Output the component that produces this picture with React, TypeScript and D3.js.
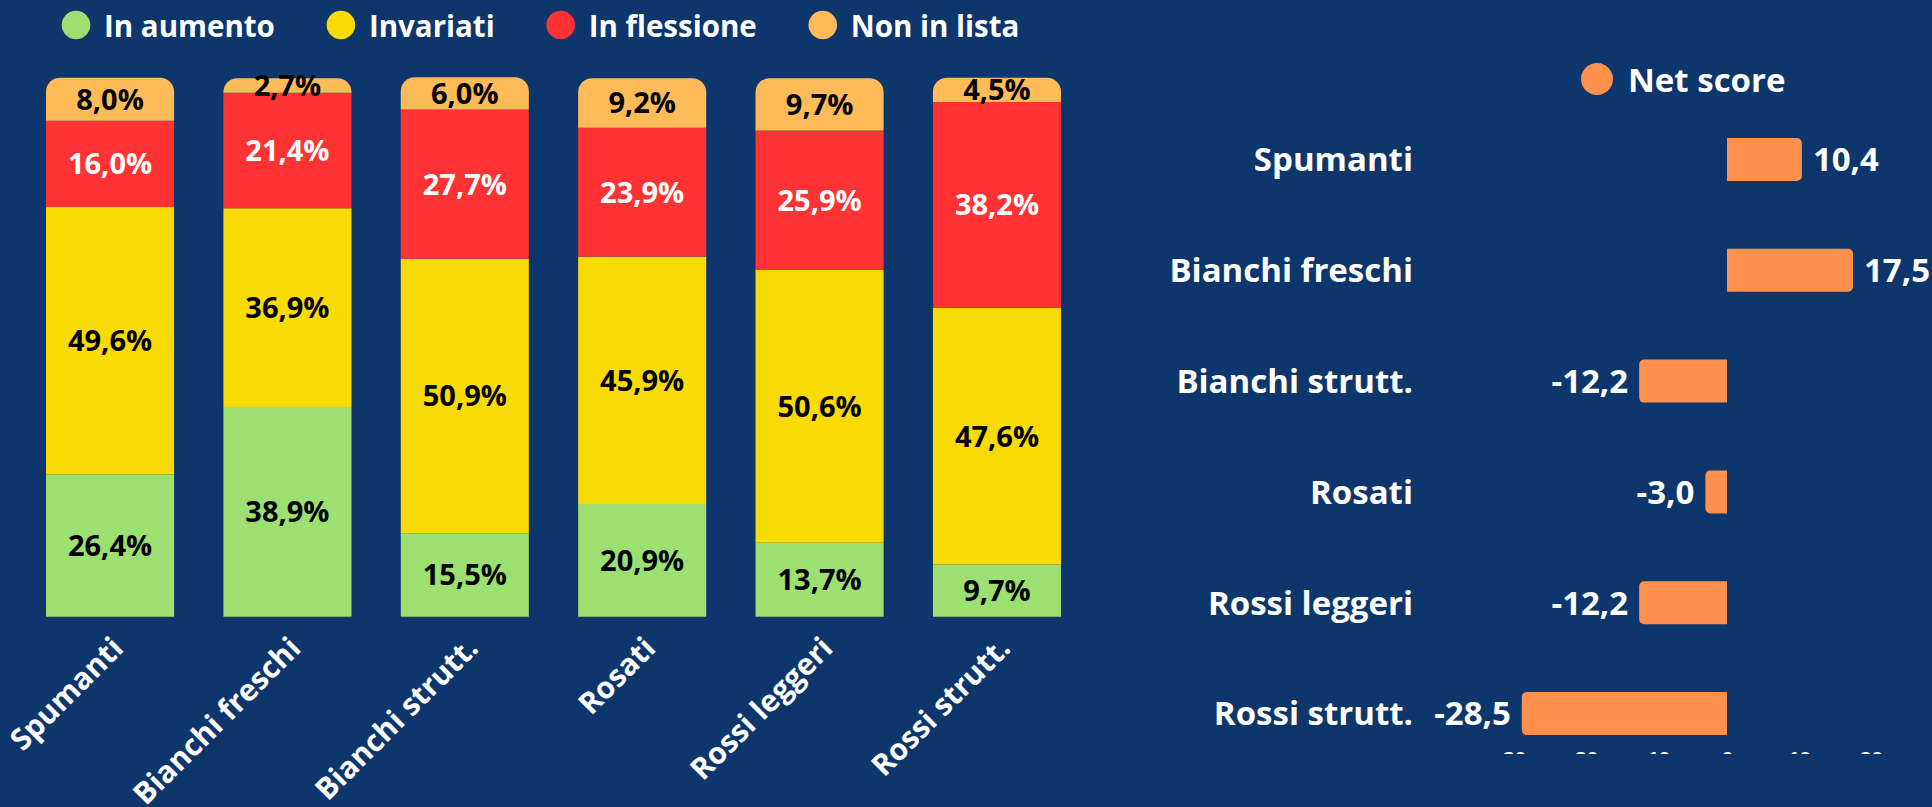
import { useEffect, useRef } from "react";
import * as d3 from "d3";

// Categorie e serie
const categories = [
  "Spumanti",
  "Bianchi freschi",
  "Bianchi strutt.",
  "Rosati",
  "Rossi leggeri",
  "Rossi strutt.",
];
const seriesNames = ["In aumento", "Invariati", "In flessione", "Non in lista"];
const inAumento = [26.4, 38.9, 15.5, 20.9, 13.7, 9.7];
const invariati = [49.6, 36.9, 50.9, 45.9, 50.6, 47.6];
const inFlessione = [16.0, 21.4, 27.7, 23.9, 25.9, 38.2];
const nonInLista = [8.0, 2.7, 6.0, 9.2, 9.7, 4.5];
const netScore = [10.4, 17.5, -12.2, -3.0, -12.2, -28.5];
const netTicks = [-30, -20, -10, 0, 10, 20];

const seriesColors = ["#9be070", "#f8da05", "#ff3333", "#febb58"];
const labelColors = ["#000000", "#000000", "#ffffff", "#000000"];
const netColor = "#ff914d";
const bg = "#0d366c";
const FONT = "'Open Sans', sans-serif";

const W = 1932;
const H = 807;

// formato italiano con trattino semplice
const fmt = (v: number) => d3.format(".1f")(v).replace(".", ",").replace("\u2212", "-");

function roundedTop(x: number, y: number, w: number, h: number, r: number) {
  const rr = Math.min(r, h, w / 2);
  return `M${x},${y + h}V${y + rr}A${rr},${rr} 0 0 1 ${x + rr},${y}H${x + w - rr}A${rr},${rr} 0 0 1 ${x + w},${y + rr}V${y + h}Z`;
}

function hBar(x0: number, x1: number, y: number, h: number, r: number) {
  const len = Math.abs(x1 - x0);
  const rr = Math.min(r, len, h / 2);
  if (x1 >= x0) {
    return `M${x0},${y}H${x1 - rr}A${rr},${rr} 0 0 1 ${x1},${y + rr}V${y + h - rr}A${rr},${rr} 0 0 1 ${x1 - rr},${y + h}H${x0}Z`;
  }
  return `M${x0},${y}H${x1 + rr}A${rr},${rr} 0 0 0 ${x1},${y + rr}V${y + h - rr}A${rr},${rr} 0 0 0 ${x1 + rr},${y + h}H${x0}Z`;
}

const App = () => {
  const svgRef = useRef<SVGSVGElement>(null);

  useEffect(() => {
    document.body.style.margin = "0";
    document.body.style.background = bg;
    document.body.style.overflow = "hidden";
    if (!svgRef.current) return;
    const svg = d3.select(svgRef.current);
    svg.selectAll("*").remove();

    svg.append("rect").attr("width", W).attr("height", H).attr("fill", bg);

    // ---- grafico a barre impilate ----
    const rows = categories.map((c, i) => ({
      cat: c,
      "In aumento": inAumento[i],
      Invariati: invariati[i],
      "In flessione": inFlessione[i],
      "Non in lista": nonInLista[i],
    }));
    const stacked = d3.stack<any>().keys(seriesNames)(rows);

    const x = d3.scaleBand().domain(categories).range([46, 1061]).paddingInner(0.278).paddingOuter(0);
    const y = d3.scaleLinear().domain([0, 100]).range([616.7, 77.7]);

    const left = svg.append("g");
    stacked.forEach((layer, si) => {
      const isTop = si === stacked.length - 1;
      const g = left.append("g");
      g.selectAll("path")
        .data(layer)
        .enter()
        .append("path")
        .attr("d", (d: any) => {
          const x0 = x(d.data.cat)!;
          const y0 = y(d[1]);
          const h = y(d[0]) - y(d[1]);
          return isTop
            ? roundedTop(x0, y0, x.bandwidth(), h, 14)
            : `M${x0},${y0}h${x.bandwidth()}v${h}h${-x.bandwidth()}Z`;
        })
        .attr("fill", seriesColors[si]);
      g.selectAll("text")
        .data(layer)
        .enter()
        .append("text")
        .attr("x", (d: any) => x(d.data.cat)! + x.bandwidth() / 2)
        .attr("y", (d: any) => (y(d[0]) + y(d[1])) / 2)
        .attr("dy", "0.36em")
        .attr("text-anchor", "middle")
        .attr("font-family", FONT)
        .attr("font-weight", 700)
        .attr("font-size", 29)
        .attr("fill", labelColors[si])
        .text((d: any) => fmt(d[1] - d[0]) + "%");
    });

    // etichette categorie ruotate
    left
      .selectAll(".cat")
      .data(categories)
      .enter()
      .append("text")
      .attr("class", "cat")
      .attr("transform", (d) => `translate(${x(d)! + x.bandwidth() / 2 + 15},650) rotate(-45)`)
      .attr("text-anchor", "end")
      .attr("font-family", FONT)
      .attr("font-weight", 700)
      .attr("font-size", 30)
      .attr("fill", "#ffffff")
      .text((d) => d);

    // legenda
    const legend = svg.append("g");
    let cx = 76;
    seriesNames.forEach((name, i) => {
      legend.append("circle").attr("cx", cx).attr("cy", 25).attr("r", 14.3).attr("fill", seriesColors[i]);
      const t = legend
        .append("text")
        .attr("x", cx + 28)
        .attr("y", 37)
        .attr("font-family", FONT)
        .attr("font-weight", 700)
        .attr("font-size", 29.5)
        .attr("fill", "#ffffff")
        .text(name);
      const len = (t.node() as SVGTextElement).getComputedTextLength();
      cx = cx + 28 + len + 66;
    });

    // ---- net score ----
    const xs = d3.scaleLinear().domain([-30, 20]).range([1511, 1871]);
    const ys = d3.scaleBand().domain(categories).range([138, 735]).paddingInner(0.612).paddingOuter(0);

    const right = svg.append("g");
    right
      .selectAll(".nb")
      .data(categories)
      .enter()
      .append("path")
      .attr("class", "nb")
      .attr("d", (d, i) => hBar(xs(0), xs(netScore[i]), ys(d)!, ys.bandwidth(), 5))
      .attr("fill", netColor);

    right
      .selectAll(".nv")
      .data(categories)
      .enter()
      .append("text")
      .attr("class", "nv")
      .attr("x", (d, i) => (netScore[i] >= 0 ? xs(netScore[i]) + 11 : xs(netScore[i]) - 11))
      .attr("y", (d) => ys(d)! + ys.bandwidth() / 2)
      .attr("dy", "0.36em")
      .attr("text-anchor", (d, i) => (netScore[i] >= 0 ? "start" : "end"))
      .attr("font-family", FONT)
      .attr("font-weight", 700)
      .attr("font-size", 33)
      .attr("fill", "#ffffff")
      .text((d, i) => fmt(netScore[i]));

    right
      .selectAll(".nc")
      .data(categories)
      .enter()
      .append("text")
      .attr("class", "nc")
      .attr("x", 1413)
      .attr("y", (d) => ys(d)! + ys.bandwidth() / 2)
      .attr("dy", "0.36em")
      .attr("text-anchor", "end")
      .attr("font-family", FONT)
      .attr("font-weight", 700)
      .attr("font-size", 33)
      .attr("fill", "#ffffff")
      .text((d) => d);

    // asse tagliato in basso
    svg
      .append("clipPath")
      .attr("id", "axclip")
      .append("rect")
      .attr("x", 1400)
      .attr("y", 700)
      .attr("width", 532)
      .attr("height", 54);
    const ax = right
      .append("g")
      .attr("clip-path", "url(#axclip)")
      .append("g")
      .attr("transform", "translate(0,746)")
      .call(d3.axisBottom(xs).tickValues(netTicks).tickSize(0).tickPadding(6).tickFormat((d) => String(d)));
    ax.select(".domain").remove();
    ax.selectAll("text")
      .attr("font-family", FONT)
      .attr("font-weight", 700)
      .attr("font-size", 20)
      .attr("fill", "#ffffff");

    right.append("circle").attr("cx", 1597).attr("cy", 79).attr("r", 16).attr("fill", netColor);
    right
      .append("text")
      .attr("x", 1628)
      .attr("y", 92)
      .attr("font-family", FONT)
      .attr("font-weight", 700)
      .attr("font-size", 33)
      .attr("fill", "#ffffff")
      .text("Net score");
  }, []);

  return <svg ref={svgRef} width={W} height={H} style={{ display: "block" }} />;
};

export default App;
